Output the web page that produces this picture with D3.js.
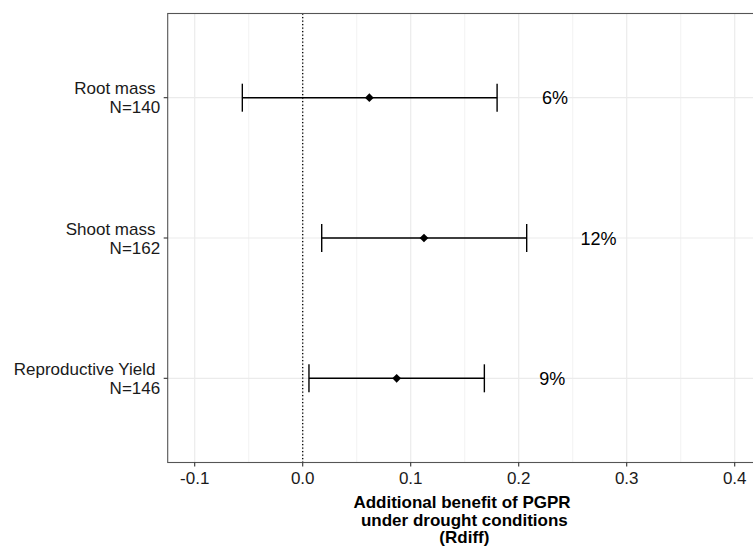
<!DOCTYPE html>
<html><head><meta charset="utf-8">
<script src="https://cdn.jsdelivr.net/npm/d3@7"></script>
<style>body{margin:0;background:#fff}text{font-family:"Liberation Sans",Arial,sans-serif}</style>
</head><body>
<svg id="c" width="753" height="547"></svg>
<script>
// Data
const categories = ["Root mass", "Shoot mass", "Reproductive Yield"];
const sampleN = [140, 162, 146];
const estimate = [0.0617, 0.1123, 0.0870];
const lower = [-0.0559, 0.0176, 0.0058];
const upper = [0.1800, 0.2074, 0.1682];
const pctLabels = ["6%", "12%", "9%"];
const pctLabelX = [0.2336, 0.274, 0.2311];
const xTicks = [-0.1, 0.0, 0.1, 0.2, 0.3, 0.4];
const xMinor = [-0.05, 0.05, 0.15, 0.25, 0.35];
const titleLines = ["Additional benefit of PGPR", " under drought conditions", " (Rdiff)"];

const svg = d3.select("#c");
const L = 167.7, T = 13.5, B = 462.5, R = 756.3;
const x = d3.scaleLinear().domain([-0.125, 0.42]).range([L, R]);
const y = d3.scalePoint().domain(categories).range([T, B]).padding(0.6);

const g = svg.append("g");
// grid
g.selectAll(".minor").data(xMinor).join("line")
  .attr("x1", d => x(d)).attr("x2", d => x(d)).attr("y1", T).attr("y2", B)
  .attr("stroke", "#ebebeb").attr("stroke-width", 0.6);
g.selectAll(".major").data(xTicks).join("line")
  .attr("x1", d => x(d)).attr("x2", d => x(d)).attr("y1", T).attr("y2", B)
  .attr("stroke", "#ebebeb").attr("stroke-width", 1.2);
g.selectAll(".hgrid").data(categories).join("line")
  .attr("x1", L).attr("x2", R).attr("y1", d => y(d)).attr("y2", d => y(d))
  .attr("stroke", "#ebebeb").attr("stroke-width", 1.2);

// zero line
g.append("line").attr("x1", x(0)).attr("x2", x(0)).attr("y1", T).attr("y2", B)
  .attr("stroke", "#000").attr("stroke-width", 1.3).attr("stroke-dasharray", "1.3,2.2");

// error bars
const rows = categories.map((c, i) => ({c, n: sampleN[i], est: estimate[i], lo: lower[i], hi: upper[i], lab: pctLabels[i], lx: pctLabelX[i]}));
const eb = g.selectAll(".eb").data(rows).join("g");
eb.append("line").attr("x1", d => x(d.lo)).attr("x2", d => x(d.hi))
  .attr("y1", d => y(d.c)).attr("y2", d => y(d.c)).attr("stroke", "#000").attr("stroke-width", 1.4);
eb.append("line").attr("x1", d => x(d.lo)).attr("x2", d => x(d.lo))
  .attr("y1", d => y(d.c) - 14).attr("y2", d => y(d.c) + 14).attr("stroke", "#000").attr("stroke-width", 1.4);
eb.append("line").attr("x1", d => x(d.hi)).attr("x2", d => x(d.hi))
  .attr("y1", d => y(d.c) - 14).attr("y2", d => y(d.c) + 14).attr("stroke", "#000").attr("stroke-width", 1.4);
eb.append("path").attr("d", d3.symbol(d3.symbolSquare, 38)())
  .attr("transform", d => `translate(${x(d.est)},${y(d.c)}) rotate(45)`)
  .attr("fill", "#000");
eb.append("text").attr("x", d => x(d.lx)).attr("y", d => y(d.c) + 6.5)
  .attr("text-anchor", "middle").attr("font-size", 18).attr("fill", "#000").text(d => d.lab);

// panel border
g.append("rect").attr("x", L).attr("y", T).attr("width", R - L + 10).attr("height", B - T)
  .attr("fill", "none").attr("stroke", "#555").attr("stroke-width", 1.1);

// x ticks
const fmt = d => d3.format(".1f")(d).replace("\u2212", "-");
g.selectAll(".xt").data(xTicks).join("line")
  .attr("x1", d => x(d)).attr("x2", d => x(d)).attr("y1", B).attr("y2", B + 4)
  .attr("stroke", "#333").attr("stroke-width", 1.1);
g.selectAll(".xl").data(xTicks).join("text")
  .attr("x", d => x(d)).attr("y", B + 21).attr("text-anchor", "middle")
  .attr("font-size", 17).attr("fill", "#1a1a1a").text(fmt);

// y ticks
g.selectAll(".yt").data(categories).join("line")
  .attr("x1", L - 4).attr("x2", L).attr("y1", d => y(d)).attr("y2", d => y(d))
  .attr("stroke", "#333").attr("stroke-width", 1.1);
const yl = g.selectAll(".yl").data(rows).join("text")
  .attr("text-anchor", "end").attr("font-size", 17).attr("fill", "#1a1a1a")
  .style("white-space", "pre");
yl.append("tspan").attr("x", L - 7.5).attr("y", d => y(d.c) - 3.3).text(d => d.c + " ");
yl.append("tspan").attr("x", L - 7.5).attr("y", d => y(d.c) + 15.5).text(d => "N=" + d.n);

// x title
const tt = svg.append("text").attr("text-anchor", "middle").attr("font-size", 17)
  .attr("font-weight", "bold").attr("fill", "#000").style("white-space", "pre");
titleLines.forEach((s, i) => tt.append("tspan").attr("x", (L + R) / 2).attr("y", 508.3 + i * 17.4).text(s));
</script>
</body></html>
